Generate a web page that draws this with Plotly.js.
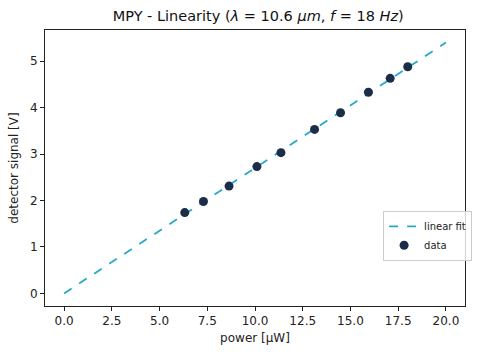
<!DOCTYPE html>
<html><head><meta charset="utf-8">
<script src="https://cdn.plot.ly/plotly-3.0.1.min.js"></script>
<style>html,body{margin:0;padding:0;background:#fff}#plot{width:480px;height:360px}</style>
</head><body><div id="plot"></div>
<script>
const power = [6.32, 7.30, 8.64, 10.10, 11.36, 13.12, 14.48, 15.94, 17.08, 18.00];
const signal = [1.74, 1.98, 2.31, 2.73, 3.03, 3.53, 3.89, 4.33, 4.63, 4.88];
const fitPower = [0, 20];
const fitSignal = [0, 5.40];
const xTicks = [0, 2.5, 5, 7.5, 10, 12.5, 15, 17.5, 20];
const xTickText = ["0.0", "2.5", "5.0", "7.5", "10.0", "12.5", "15.0", "17.5", "20.0"];
const yTicks = [0, 1, 2, 3, 4, 5];

const fam = "DejaVu Sans, sans-serif";
const data = [
  {x: fitPower, y: fitSignal, mode: "lines", name: "linear fit",
   line: {color: "#25a9c9", width: 1.8, dash: "dash"}},
  {x: power, y: signal, mode: "markers", name: "data",
   marker: {color: "#1b2d48", size: 9}}
];
const axisCommon = {showgrid: false, zeroline: false, showline: true, mirror: true,
  linecolor: "#222", linewidth: 1, ticks: "outside", ticklen: 4, tickcolor: "#222",
  tickfont: {family: fam, size: 12, color: "#222"}};
const layout = {
  width: 480, height: 360,
  margin: {l: 45, r: 8, t: 30, b: 54},
  paper_bgcolor: "#fff", plot_bgcolor: "#fff",
  font: {family: fam, size: 12, color: "#222"},
  title: {text: "MPY - Linearity (<i>λ</i> = 10.6 <i>μm</i>, <i>f</i> = 18 <i>Hz</i>)",
    font: {family: fam, size: 14.5, color: "#111"}, x: 0.538, xanchor: "center", y: 0.955, yanchor: "middle"},
  xaxis: Object.assign({}, axisCommon, {range: [-1, 21], tickvals: xTicks, ticktext: xTickText,
    title: {text: "power [μW]", font: {family: fam, size: 12, color: "#222"}, standoff: 6}}),
  yaxis: Object.assign({}, axisCommon, {range: [-0.27, 5.67], tickvals: yTicks,
    title: {text: "detector signal [V]", font: {family: fam, size: 12, color: "#222"}, standoff: 8}}),
  showlegend: true,
  legend: {x: 0.805, y: 0.345, xanchor: "left", yanchor: "top", bgcolor: "rgba(255,255,255,0.8)",
    bordercolor: "#ccc", borderwidth: 1, font: {family: fam, size: 10, color: "#222"},
    tracegroupgap: 0, itemwidth: 30}
};
Plotly.newPlot("plot", data, layout, {displayModeBar: false, staticPlot: true});
</script></body></html>
